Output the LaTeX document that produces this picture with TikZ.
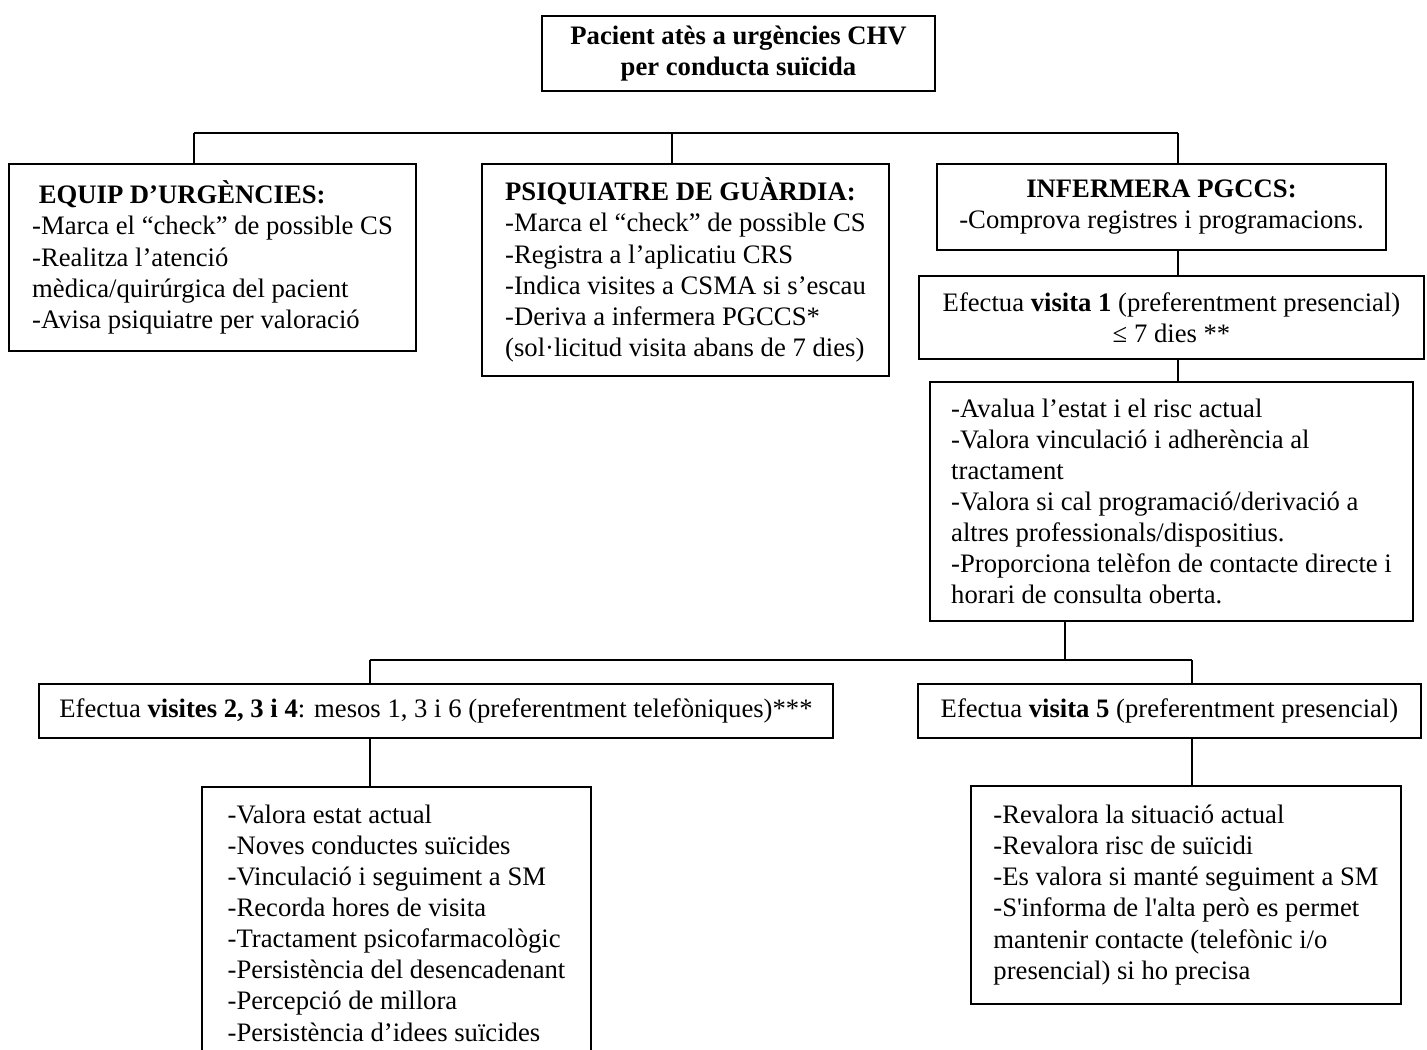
\documentclass[tikz,border=0pt]{standalone}
\usepackage{fontspec}
\setmainfont{Liberation Serif}
\newcommand{\px}{0.45pt}
\begin{document}
\begin{tikzpicture}[x=0.45pt,y=-0.45pt,
  box/.style={draw,line width=0.9pt,anchor=north west,inner sep=0pt,align=left,
    font=\fontsize{12}{14}\selectfont},
  link/.style={line width=0.8pt}]
\useasboundingbox (0,0) rectangle (1427,1050);

\node[box,align=center,minimum width=393*\px,minimum height=75*\px] (pac) at (541,15)
  {\textbf{Pacient atès a urgències CHV}\\\textbf{per conducta suïcida}};

\node[box,minimum width=407*\px,minimum height=187*\px] (urg) at (8,163)
  {\hspace*{3pt}\textbf{EQUIP D’URGÈNCIES:}\\
   -Marca el “check” de possible CS\\
   -Realitza l’atenció\\
   mèdica/quirúrgica del pacient\\
   -Avisa psiquiatre per valoració};
\node[box,minimum width=407*\px,minimum height=212*\px] (psi) at (481,163)
  {\textbf{PSIQUIATRE DE GUÀRDIA:}\\
   -Marca el “check” de possible CS\\
   -Registra a l’aplicatiu CRS\\
   -Indica visites a CSMA si s’escau\\
   -Deriva a infermera PGCCS*\\
   (sol·licitud visita abans de 7 dies)};
\node[box,align=center,minimum width=449*\px,minimum height=86*\px] (inf) at (936,163)
  {\textbf{INFERMERA PGCCS:}\\-Comprova registres i programacions.};
\node[box,align=center,minimum width=505*\px,minimum height=83*\px] (vis1) at (918,275)
  {Efectua \textbf{visita 1} (preferentment presencial)\\≤ 7 dies **};
\node[box,minimum width=483*\px,minimum height=239*\px] (aval) at (929,381)
  {-Avalua l’estat i el risc actual\\
   -Valora vinculació i adherència al\\
   tractament\\
   -Valora si cal programació/derivació a\\
   altres professionals/dispositius.\\
   -Proporciona telèfon de contacte directe i\\
   horari de consulta oberta.};

\node[box,align=center,minimum width=794*\px,minimum height=54*\px] (visb) at (38,683)
  {Efectua \textbf{visites 2, 3 i 4}: mesos 1, 3 i 6 (preferentment telefòniques)***};
\node[box,align=center,minimum width=503*\px,minimum height=54*\px] (visc) at (917,683)
  {Efectua \textbf{visita 5} (preferentment presencial)};
\node[box,minimum width=389*\px,minimum height=272*\px] (val) at (201,786)
  {-Valora estat actual\\
   -Noves conductes suïcides\\
   -Vinculació i seguiment a SM\\
   -Recorda hores de visita\\
   -Tractament psicofarmacològic\\
   -Persistència del desencadenant\\
   -Percepció de millora\\
   -Persistència d’idees suïcides};
\node[box,minimum width=430*\px,minimum height=218*\px] (rev) at (970,785)
  {-Revalora la situació actual\\
   -Revalora risc de suïcidi\\
   -Es valora si manté seguiment a SM\\
   -S\textquotesingle informa de l\textquotesingle alta però es permet\\
   mantenir contacte (telefònic i/o\\
   presencial) si ho precisa};

% upper branches
\coordinate (bL) at (194,133);
\coordinate (bM) at (672,133);
\coordinate (bR) at (1178,133);
\draw[link] (bL) -- (bR);
\draw[link] (bL) -- (bL |- urg.north);
\draw[link] (bM) -- (bM |- psi.north);
\draw[link] (bR) -- (bR |- inf.north);
\draw[link] (bR |- inf.south) -- (bR |- vis1.north);
\draw[link] (bR |- vis1.south) -- (bR |- aval.north);

% lower branches
\coordinate (cM) at (1065,660);
\coordinate (cL) at (370,660);
\coordinate (cR) at (1192,660);
\draw[link] (cM |- aval.south) -- (cM);
\draw[link] (cL) -- (cR);
\draw[link] (cL) -- (cL |- visb.north);
\draw[link] (cR) -- (cR |- visc.north);
\draw[link] (cL |- visb.south) -- (cL |- val.north);
\draw[link] (cR |- visc.south) -- (cR |- rev.north);
\end{tikzpicture}
\end{document}
